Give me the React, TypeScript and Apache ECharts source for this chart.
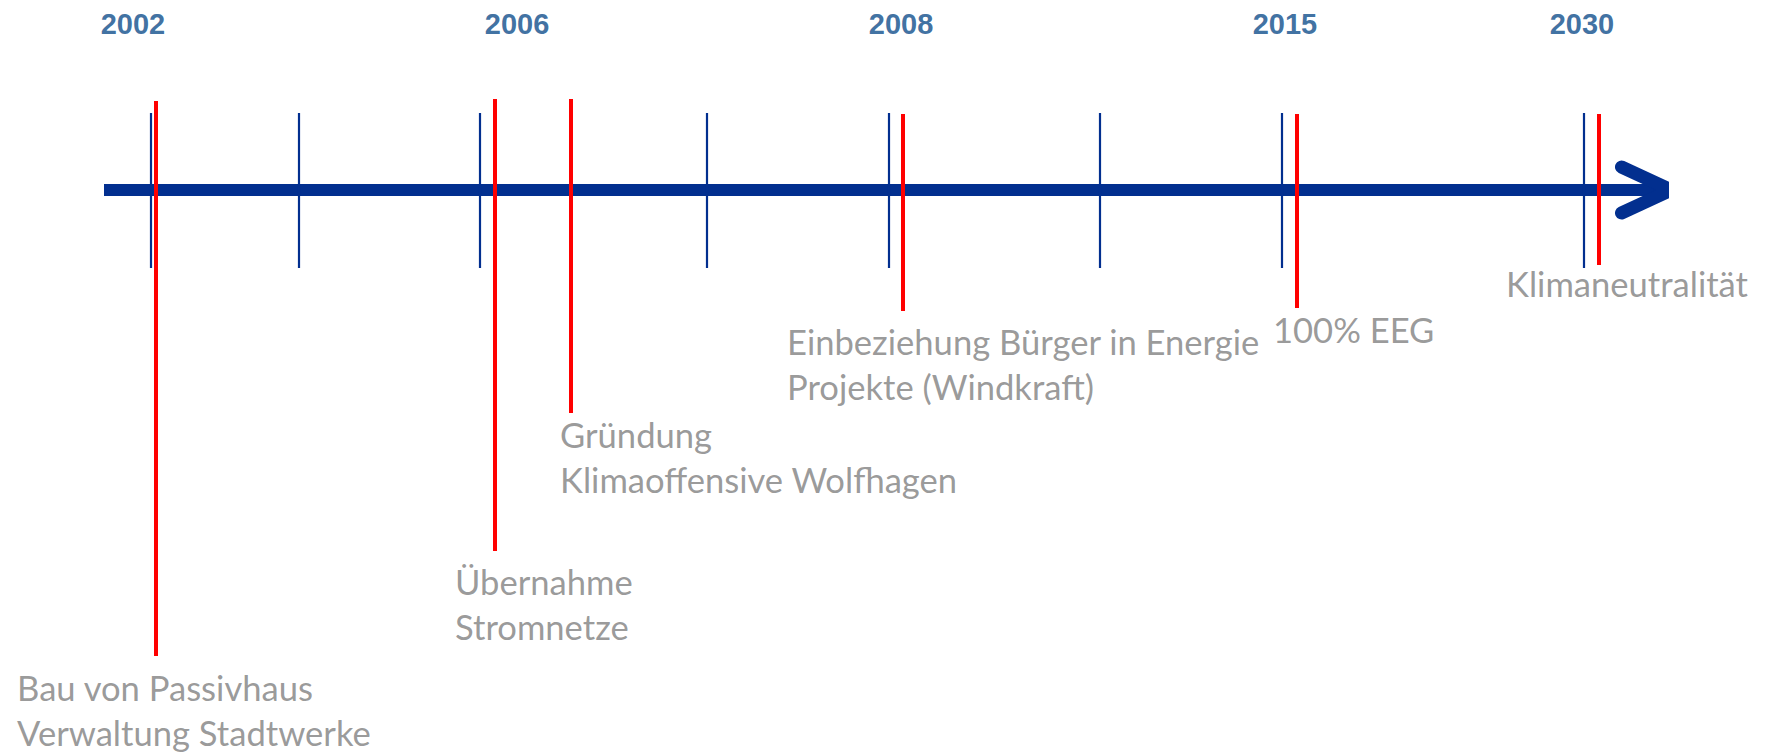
import React, { useEffect, useRef } from "react";
import * as echarts from "echarts";

// Timeline position scale: 0 = start of the arrow, 100 = arrow tip.
// Vertical scale: 0 = arrow centre line, positive downwards.
const yearLabels = ["2002", "2006", "2008", "2015", "2030"];
const yearPositions = [1.86, 26.51, 51.16, 75.8, 94.86];
const tickPositions = [3.02, 12.52, 24.13, 38.7, 50.39, 63.93, 75.61, 94.99];
const eventNames = [
  "Bau von Passivhaus\nVerwaltung Stadtwerke",
  "Übernahme\nStromnetze",
  "Gründung\nKlimaoffensive Wolfhagen",
  "Einbeziehung Bürger in Energie\nProjekte (Windkraft)",
  "100% EEG",
  "Klimaneutralität",
];
const eventPositions = [3.34, 25.1, 29.97, 51.28, 76.57, 95.96];
const eventTops = [-89, -91, -91, -76, -76, -76];
const eventDepths = [466, 361, 223, 121, 118, 75];

// layout of the text boxes (same scales)
const labelX = [-5.58, 22.53, 29.27, 43.84, 75.03, 89.99];
const labelY = [475, 369, 222, 129, 117, 71];
const tickHalf = [-77, 78];
const yearLabelY = -166.5;
const arrowArm = { x: 97.4, up: -23, down: 23 };
const arrowTip = 100.6;

const BLUE = "#022F8F";
const YEAR_BLUE = "#0E4C8A";
const RED = "#FF0000";
const GREY = "#7F7F7F";

export default function App() {
  const ref = useRef<HTMLDivElement>(null);
  useEffect(() => {
    if (!ref.current) return;
    const chart = echarts.init(ref.current, null, { renderer: "svg" });
    chart.setOption({
      animation: false,
      grid: { left: 104, right: 109, top: 0, bottom: 0 },
      xAxis: { type: "value", min: 0, max: 100, show: false },
      yAxis: { type: "value", min: -190, max: 564, inverse: true, show: false },
      series: [
        {
          type: "line",
          silent: true,
          symbol: "none",
          clip: false,
          data: [
            [0, 0],
            [arrowTip - 0.5, 0],
          ],
          lineStyle: { color: BLUE, width: 12, cap: "butt" },
          z: 1,
        },
        {
          type: "line",
          silent: true,
          symbol: "none",
          clip: false,
          data: [
            [arrowArm.x, arrowArm.up],
            [arrowTip, 0],
            [arrowArm.x, arrowArm.down],
          ],
          lineStyle: { color: BLUE, width: 13, cap: "round", join: "miter" },
          z: 2,
        },
        {
          type: "lines",
          coordinateSystem: "cartesian2d",
          silent: true,
          data: tickPositions.map((x) => ({
            coords: [
              [x, tickHalf[0]],
              [x, tickHalf[1]],
            ],
          })),
          lineStyle: { color: BLUE, width: 2.2, opacity: 1 },
          z: 3,
        },
        {
          type: "lines",
          coordinateSystem: "cartesian2d",
          silent: true,
          data: eventPositions.map((x, i) => ({
            coords: [
              [x, eventTops[i]],
              [x, eventDepths[i]],
            ],
          })),
          lineStyle: { color: RED, width: 4, opacity: 1 },
          z: 4,
        },
        {
          type: "scatter",
          silent: true,
          clip: false,
          symbolSize: 0,
          data: yearPositions.map((x, i) => ({ value: [x, yearLabelY], name: yearLabels[i] })),
          label: {
            show: true,
            position: [0, 0],
            align: "center",
            verticalAlign: "middle",
            formatter: (p: any) => p.name,
            fontFamily: "Liberation Sans, Arial, sans-serif",
            fontWeight: "bold",
            fontSize: 29,
            color: YEAR_BLUE,
          },
          z: 5,
        },
        {
          type: "scatter",
          silent: true,
          clip: false,
          symbolSize: 0,
          data: eventNames.map((n, i) => ({ value: [labelX[i], labelY[i]], name: n })),
          label: {
            show: true,
            position: [0, 0],
            align: "left",
            verticalAlign: "top",
            formatter: (p: any) => p.name,
            fontFamily: "Lato, sans-serif",
            fontSize: 34.6,
            lineHeight: 45,
            color: GREY,
          },
          z: 5,
        },
      ],
    });
    return () => chart.dispose();
  }, []);
  return (
    <div
      ref={ref}
      style={{ position: "absolute", left: 0, top: 0, width: 1771, height: 754, background: "#fff" }}
    />
  );
}
